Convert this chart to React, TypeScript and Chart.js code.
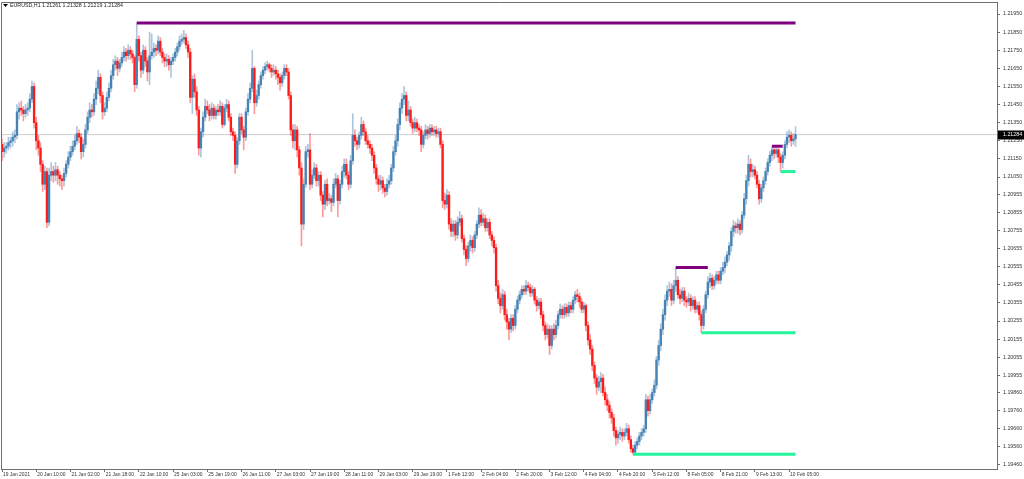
import React, { useEffect, useRef } from "react";
import { Chart, registerables } from "chart.js";

Chart.register(...registerables);

const symbolName = "EURUSD,H1";
const lastBarQuote = ["1.21261", "1.21328", "1.21219", "1.21284"];
const currentPrice = 1.21284;

const opens = [
  1.2123, 1.2119, 1.2121, 1.2122, 1.2124, 1.2125, 1.2127, 1.2128, 1.2141, 1.2143,
  1.2142, 1.2140, 1.2142, 1.2143, 1.2148, 1.2155, 1.2135, 1.2125, 1.2121, 1.2112,
  1.2101, 1.2108, 1.2080, 1.2106, 1.2108, 1.2106, 1.2109, 1.2106, 1.2104, 1.2103,
  1.2107, 1.2112, 1.2116, 1.2119, 1.2122, 1.2125, 1.2129, 1.2127, 1.2119, 1.2123,
  1.2131, 1.2138, 1.2142, 1.2141, 1.2148, 1.2154, 1.2160, 1.2150, 1.2141, 1.2143,
  1.2149, 1.2154, 1.2161, 1.2167, 1.2169, 1.2165, 1.2168, 1.2171, 1.2174, 1.2172,
  1.2175, 1.2173, 1.2171, 1.2156, 1.2181, 1.2172, 1.2164, 1.2175, 1.2169, 1.2163,
  1.2172, 1.2174, 1.2176, 1.2175, 1.2180, 1.2174, 1.2171, 1.2169, 1.2170, 1.2167,
  1.2169, 1.2171, 1.2174, 1.2177, 1.2180, 1.2181, 1.2182, 1.2178, 1.2174, 1.2149,
  1.2159, 1.2152, 1.2142, 1.2121, 1.2130, 1.2138, 1.2144, 1.2142, 1.2139, 1.2143,
  1.2139, 1.2142, 1.2141, 1.2144, 1.2134, 1.2143, 1.2145, 1.2138, 1.2130, 1.2128,
  1.2112, 1.2125, 1.2138, 1.2131, 1.2127, 1.2141, 1.2148, 1.2154, 1.2165, 1.2146,
  1.2150, 1.2156, 1.2161, 1.2164, 1.2166, 1.2167, 1.2165, 1.2163, 1.2164, 1.2162,
  1.2160, 1.2157, 1.2161, 1.2165, 1.2163, 1.2150, 1.2131, 1.2125, 1.2131, 1.2120,
  1.2110, 1.2079, 1.2101, 1.2119, 1.2120, 1.2101, 1.2106, 1.2110, 1.2103, 1.2106,
  1.2095, 1.2090, 1.2101, 1.2092, 1.2093, 1.2091, 1.2101, 1.2104, 1.2092, 1.2101,
  1.2108, 1.2112, 1.2106, 1.2101, 1.2114, 1.2128, 1.2125, 1.2123, 1.2128, 1.2134,
  1.2130, 1.2125, 1.2123, 1.2121, 1.2117, 1.2110, 1.2104, 1.2101, 1.2103, 1.2099,
  1.2097, 1.2101, 1.2103, 1.2110, 1.2119, 1.2125, 1.2134, 1.2143, 1.2148, 1.2150,
  1.2139, 1.2142, 1.2135, 1.2132, 1.2135, 1.2132, 1.2131, 1.2123, 1.2128, 1.2131,
  1.2129, 1.2132, 1.2130, 1.2131, 1.2129, 1.2130, 1.2123, 1.2092, 1.2090, 1.2095,
  1.2079, 1.2075, 1.2079, 1.2073, 1.2080, 1.2082, 1.2071, 1.2065, 1.2060, 1.2067,
  1.2070, 1.2066, 1.2073, 1.2079, 1.2084, 1.2080, 1.2082, 1.2077, 1.2080, 1.2073,
  1.2070, 1.2066, 1.2045, 1.2038, 1.2034, 1.2040, 1.2029, 1.2025, 1.2021, 1.2027,
  1.2023, 1.2032, 1.2037, 1.2040, 1.2043, 1.2042, 1.2045, 1.2044, 1.2041, 1.2043,
  1.2037, 1.2034, 1.2036, 1.2029, 1.2023, 1.2018, 1.2021, 1.2012, 1.2021, 1.2018,
  1.2023, 1.2029, 1.2032, 1.2029, 1.2033, 1.2030, 1.2034, 1.2032, 1.2037, 1.2040,
  1.2039, 1.2036, 1.2032, 1.2034, 1.2023, 1.2015, 1.2010, 1.2001, 1.1994, 1.1989,
  1.1992, 1.1994, 1.1986, 1.1982, 1.1979, 1.1975, 1.1972, 1.1965, 1.1961, 1.1963,
  1.1964, 1.1962, 1.1964, 1.1966, 1.1960, 1.1955, 1.1953, 1.1957, 1.1959, 1.1962,
  1.1964, 1.1966, 1.1982, 1.1976, 1.1982, 1.1986, 1.1990, 1.2004, 1.2012, 1.2021,
  1.2029, 1.2037, 1.2042, 1.2043, 1.2037, 1.2045, 1.2048, 1.2040, 1.2038, 1.2042,
  1.2037, 1.2036, 1.2038, 1.2034, 1.2037, 1.2032, 1.2034, 1.2029, 1.2023, 1.2032,
  1.2040, 1.2047, 1.2049, 1.2045, 1.2048, 1.2051, 1.2048, 1.2053, 1.2055, 1.2058,
  1.2062, 1.2067, 1.2075, 1.2078, 1.2077, 1.2079, 1.2076, 1.2084, 1.2093, 1.2103,
  1.2112, 1.2108, 1.2109, 1.2106, 1.2101, 1.2093, 1.2099, 1.2103, 1.2108, 1.2113,
  1.2117, 1.2120, 1.2118, 1.2120, 1.2116, 1.2113, 1.2117, 1.2123, 1.2127, 1.2128, 1.2125, 1.21261,
];

const highs = [
  1.2126, 1.2124, 1.2124, 1.2127, 1.2127, 1.2130, 1.2131, 1.2145, 1.2146, 1.2147,
  1.2144, 1.2145, 1.2146, 1.2151, 1.2158, 1.2157, 1.2138, 1.2128, 1.2124, 1.2114,
  1.2111, 1.2110, 1.2110, 1.2113, 1.2111, 1.2113, 1.2111, 1.2108, 1.2106, 1.2110,
  1.2114, 1.2119, 1.2122, 1.2125, 1.2128, 1.2133, 1.2131, 1.2129, 1.2126, 1.2134,
  1.2141, 1.2146, 1.2145, 1.2151, 1.2158, 1.2164, 1.2162, 1.2152, 1.2146, 1.2152,
  1.2157, 1.2164, 1.2170, 1.2172, 1.2171, 1.2170, 1.2174, 1.2177, 1.2176, 1.2178,
  1.2177, 1.2175, 1.2172, 1.2190, 1.2183, 1.2174, 1.2178, 1.2177, 1.2171, 1.2185,
  1.2184, 1.2179, 1.2178, 1.2183, 1.2182, 1.2176, 1.2173, 1.2173, 1.2172, 1.2171,
  1.2173, 1.2176, 1.2179, 1.2183, 1.2184, 1.2186, 1.2184, 1.2180, 1.2176, 1.2161,
  1.2162, 1.2155, 1.2144, 1.2132, 1.2141, 1.2148, 1.2147, 1.2145, 1.2146, 1.2145,
  1.2144, 1.2145, 1.2147, 1.2146, 1.2145, 1.2148, 1.2147, 1.2140, 1.2132, 1.2130,
  1.2127, 1.2140, 1.2140, 1.2133, 1.2143, 1.2151, 1.2157, 1.2175, 1.2166, 1.2153,
  1.2158, 1.2163, 1.2166, 1.2168, 1.2169, 1.2168, 1.2167, 1.2167, 1.2166, 1.2164,
  1.2162, 1.2163, 1.2167, 1.2167, 1.2165, 1.2152, 1.2134, 1.2134, 1.2133, 1.2122,
  1.2113, 1.2104, 1.2122, 1.2123, 1.2129, 1.2109, 1.2113, 1.2112, 1.2108, 1.2108,
  1.2097, 1.2103, 1.2104, 1.2096, 1.2095, 1.2104, 1.2107, 1.2106, 1.2103, 1.2111,
  1.2115, 1.2115, 1.2108, 1.2117, 1.2140, 1.2131, 1.2127, 1.2130, 1.2138, 1.2136,
  1.2132, 1.2128, 1.2125, 1.2123, 1.2119, 1.2112, 1.2106, 1.2106, 1.2105, 1.2101,
  1.2104, 1.2106, 1.2112, 1.2122, 1.2128, 1.2137, 1.2146, 1.2151, 1.2155, 1.2152,
  1.2147, 1.2144, 1.2137, 1.2138, 1.2137, 1.2134, 1.2133, 1.2130, 1.2134, 1.2133,
  1.2134, 1.2134, 1.2133, 1.2133, 1.2132, 1.2132, 1.2125, 1.2096, 1.2098, 1.2097,
  1.2082, 1.2081, 1.2081, 1.2083, 1.2086, 1.2084, 1.2073, 1.2067, 1.2069, 1.2073,
  1.2072, 1.2075, 1.2081, 1.2088, 1.2087, 1.2085, 1.2084, 1.2082, 1.2082, 1.2075,
  1.2072, 1.2068, 1.2048, 1.2041, 1.2043, 1.2042, 1.2032, 1.2027, 1.2029, 1.2029,
  1.2034, 1.2039, 1.2042, 1.2045, 1.2045, 1.2048, 1.2047, 1.2046, 1.2045, 1.2044,
  1.2039, 1.2038, 1.2038, 1.2031, 1.2025, 1.2024, 1.2023, 1.2023, 1.2024, 1.2026,
  1.2031, 1.2035, 1.2034, 1.2035, 1.2035, 1.2036, 1.2036, 1.2039, 1.2042, 1.2043,
  1.2041, 1.2038, 1.2036, 1.2035, 1.2025, 1.2018, 1.2012, 1.2003, 1.1996, 1.1995,
  1.1997, 1.1996, 1.1989, 1.1985, 1.1981, 1.1977, 1.1974, 1.1967, 1.1965, 1.1967,
  1.1966, 1.1966, 1.1969, 1.1968, 1.1962, 1.1957, 1.1959, 1.1961, 1.1964, 1.1966,
  1.1968, 1.1985, 1.1984, 1.1985, 1.1988, 1.1993, 1.2006, 1.2015, 1.2024, 1.2032,
  1.2040, 1.2045, 1.2047, 1.2046, 1.2048, 1.2055, 1.2050, 1.2043, 1.2044, 1.2044,
  1.2039, 1.2041, 1.2040, 1.2039, 1.2039, 1.2036, 1.2036, 1.2031, 1.2034, 1.2042,
  1.2050, 1.2052, 1.2051, 1.2050, 1.2053, 1.2053, 1.2055, 1.2058, 1.2061, 1.2064,
  1.2069, 1.2077, 1.2081, 1.2080, 1.2082, 1.2081, 1.2086, 1.2096, 1.2106, 1.2117,
  1.2115, 1.2112, 1.2111, 1.2108, 1.2103, 1.2101, 1.2105, 1.2110, 1.2115, 1.2119,
  1.2122, 1.2121, 1.2121, 1.2121, 1.2118, 1.2119, 1.2125, 1.2130, 1.2131, 1.2130, 1.2129, 1.21328,
];

const lows = [
  1.2114, 1.2116, 1.2118, 1.2120, 1.2121, 1.2122, 1.2124, 1.2126, 1.2137, 1.2139,
  1.2136, 1.2138, 1.2139, 1.2141, 1.2146, 1.2132, 1.2120, 1.2117, 1.2108, 1.2097,
  1.2098, 1.2077, 1.2078, 1.2103, 1.2102, 1.2103, 1.2101, 1.2100, 1.2098, 1.2100,
  1.2105, 1.2110, 1.2114, 1.2117, 1.2120, 1.2123, 1.2124, 1.2115, 1.2116, 1.2121,
  1.2129, 1.2135, 1.2138, 1.2139, 1.2145, 1.2151, 1.2146, 1.2137, 1.2139, 1.2141,
  1.2147, 1.2152, 1.2159, 1.2164, 1.2161, 1.2163, 1.2166, 1.2169, 1.2169, 1.2170,
  1.2170, 1.2168, 1.2152, 1.2154, 1.2169, 1.2160, 1.2162, 1.2166, 1.2158, 1.2156,
  1.2170, 1.2171, 1.2172, 1.2173, 1.2172, 1.2168, 1.2166, 1.2166, 1.2164, 1.2160,
  1.2167, 1.2169, 1.2172, 1.2175, 1.2178, 1.2179, 1.2176, 1.2171, 1.2146, 1.2140,
  1.2149, 1.2139, 1.2117, 1.2116, 1.2127, 1.2136, 1.2140, 1.2136, 1.2137, 1.2137,
  1.2137, 1.2139, 1.2139, 1.2132, 1.2133, 1.2141, 1.2136, 1.2128, 1.2125, 1.2107,
  1.2110, 1.2123, 1.2129, 1.2120, 1.2125, 1.2139, 1.2146, 1.2152, 1.2140, 1.2144,
  1.2148, 1.2154, 1.2159, 1.2162, 1.2164, 1.2163, 1.2160, 1.2161, 1.2159, 1.2156,
  1.2153, 1.2155, 1.2159, 1.2161, 1.2148, 1.2128, 1.2121, 1.2120, 1.2116, 1.2106,
  1.2067, 1.2076, 1.2099, 1.2116, 1.2098, 1.2099, 1.2104, 1.2100, 1.2100, 1.2092,
  1.2083, 1.2087, 1.2089, 1.2090, 1.2086, 1.2089, 1.2099, 1.2083, 1.2090, 1.2099,
  1.2105, 1.2104, 1.2098, 1.2099, 1.2112, 1.2122, 1.2120, 1.2121, 1.2126, 1.2128,
  1.2123, 1.2121, 1.2118, 1.2114, 1.2107, 1.2101, 1.2097, 1.2098, 1.2096, 1.2094,
  1.2095, 1.2099, 1.2101, 1.2108, 1.2117, 1.2122, 1.2131, 1.2140, 1.2145, 1.2136,
  1.2136, 1.2133, 1.2129, 1.2130, 1.2130, 1.2128, 1.2119, 1.2121, 1.2126, 1.2126,
  1.2127, 1.2128, 1.2128, 1.2127, 1.2127, 1.2121, 1.2088, 1.2087, 1.2088, 1.2076,
  1.2072, 1.2072, 1.2070, 1.2071, 1.2078, 1.2069, 1.2062, 1.2056, 1.2058, 1.2064,
  1.2063, 1.2064, 1.2071, 1.2077, 1.2078, 1.2078, 1.2075, 1.2075, 1.2071, 1.2067,
  1.2063, 1.2042, 1.2035, 1.2030, 1.2032, 1.2026, 1.2021, 1.2015, 1.2019, 1.2020,
  1.2021, 1.2030, 1.2035, 1.2038, 1.2040, 1.2040, 1.2042, 1.2039, 1.2039, 1.2035,
  1.2031, 1.2032, 1.2027, 1.2020, 1.2015, 1.2016, 1.2007, 1.2010, 1.2015, 1.2016,
  1.2021, 1.2027, 1.2027, 1.2027, 1.2028, 1.2028, 1.2030, 1.2030, 1.2035, 1.2036,
  1.2033, 1.2030, 1.2030, 1.2020, 1.2012, 1.2007, 1.1998, 1.1991, 1.1985, 1.1987,
  1.1986, 1.1984, 1.1979, 1.1976, 1.1972, 1.1969, 1.1962, 1.1957, 1.1958, 1.1960,
  1.1959, 1.1960, 1.1962, 1.1958, 1.1953, 1.1952, 1.1953, 1.1955, 1.1957, 1.1960,
  1.1962, 1.1964, 1.1973, 1.1974, 1.1980, 1.1984, 1.1988, 1.2001, 1.2009, 1.2018,
  1.2026, 1.2034, 1.2039, 1.2034, 1.2035, 1.2042, 1.2038, 1.2035, 1.2036, 1.2034,
  1.2033, 1.2034, 1.2031, 1.2032, 1.2030, 1.2030, 1.2026, 1.2019, 1.2021, 1.2030,
  1.2038, 1.2044, 1.2043, 1.2043, 1.2046, 1.2046, 1.2046, 1.2051, 1.2052, 1.2056,
  1.2059, 1.2064, 1.2072, 1.2074, 1.2074, 1.2073, 1.2074, 1.2082, 1.2090, 1.2100,
  1.2105, 1.2105, 1.2104, 1.2099, 1.2090, 1.2091, 1.2097, 1.2101, 1.2106, 1.2111,
  1.2114, 1.2115, 1.2116, 1.2113, 1.2108, 1.2110, 1.2115, 1.2121, 1.2124, 1.2122, 1.2123, 1.21219,
];

const closes = [
  1.2119, 1.2121, 1.2122, 1.2124, 1.2125, 1.2127, 1.2128, 1.2141, 1.2143, 1.2142,
  1.2140, 1.2142, 1.2143, 1.2148, 1.2155, 1.2135, 1.2125, 1.2121, 1.2112, 1.2101,
  1.2108, 1.2080, 1.2106, 1.2108, 1.2106, 1.2109, 1.2106, 1.2104, 1.2103, 1.2107,
  1.2112, 1.2116, 1.2119, 1.2122, 1.2125, 1.2129, 1.2127, 1.2119, 1.2123, 1.2131,
  1.2138, 1.2142, 1.2141, 1.2148, 1.2154, 1.2160, 1.2150, 1.2141, 1.2143, 1.2149,
  1.2154, 1.2161, 1.2167, 1.2169, 1.2165, 1.2168, 1.2171, 1.2174, 1.2172, 1.2175,
  1.2173, 1.2171, 1.2156, 1.2181, 1.2172, 1.2164, 1.2175, 1.2169, 1.2163, 1.2172,
  1.2174, 1.2176, 1.2175, 1.2180, 1.2174, 1.2171, 1.2169, 1.2170, 1.2167, 1.2169,
  1.2171, 1.2174, 1.2177, 1.2180, 1.2181, 1.2182, 1.2178, 1.2174, 1.2149, 1.2159,
  1.2152, 1.2142, 1.2121, 1.2130, 1.2138, 1.2144, 1.2142, 1.2139, 1.2143, 1.2139,
  1.2142, 1.2141, 1.2144, 1.2134, 1.2143, 1.2145, 1.2138, 1.2130, 1.2128, 1.2112,
  1.2125, 1.2138, 1.2131, 1.2127, 1.2141, 1.2148, 1.2154, 1.2165, 1.2146, 1.2150,
  1.2156, 1.2161, 1.2164, 1.2166, 1.2167, 1.2165, 1.2163, 1.2164, 1.2162, 1.2160,
  1.2157, 1.2161, 1.2165, 1.2163, 1.2150, 1.2131, 1.2125, 1.2131, 1.2120, 1.2110,
  1.2079, 1.2101, 1.2119, 1.2120, 1.2101, 1.2106, 1.2110, 1.2103, 1.2106, 1.2095,
  1.2090, 1.2101, 1.2092, 1.2093, 1.2091, 1.2101, 1.2104, 1.2092, 1.2101, 1.2108,
  1.2112, 1.2106, 1.2101, 1.2114, 1.2128, 1.2125, 1.2123, 1.2128, 1.2134, 1.2130,
  1.2125, 1.2123, 1.2121, 1.2117, 1.2110, 1.2104, 1.2101, 1.2103, 1.2099, 1.2097,
  1.2101, 1.2103, 1.2110, 1.2119, 1.2125, 1.2134, 1.2143, 1.2148, 1.2150, 1.2139,
  1.2142, 1.2135, 1.2132, 1.2135, 1.2132, 1.2131, 1.2123, 1.2128, 1.2131, 1.2129,
  1.2132, 1.2130, 1.2131, 1.2129, 1.2130, 1.2123, 1.2092, 1.2090, 1.2095, 1.2079,
  1.2075, 1.2079, 1.2073, 1.2080, 1.2082, 1.2071, 1.2065, 1.2060, 1.2067, 1.2070,
  1.2066, 1.2073, 1.2079, 1.2084, 1.2080, 1.2082, 1.2077, 1.2080, 1.2073, 1.2070,
  1.2066, 1.2045, 1.2038, 1.2034, 1.2040, 1.2029, 1.2025, 1.2021, 1.2027, 1.2023,
  1.2032, 1.2037, 1.2040, 1.2043, 1.2042, 1.2045, 1.2044, 1.2041, 1.2043, 1.2037,
  1.2034, 1.2036, 1.2029, 1.2023, 1.2018, 1.2021, 1.2012, 1.2021, 1.2018, 1.2023,
  1.2029, 1.2032, 1.2029, 1.2033, 1.2030, 1.2034, 1.2032, 1.2037, 1.2040, 1.2039,
  1.2036, 1.2032, 1.2034, 1.2023, 1.2015, 1.2010, 1.2001, 1.1994, 1.1989, 1.1992,
  1.1994, 1.1986, 1.1982, 1.1979, 1.1975, 1.1972, 1.1965, 1.1961, 1.1963, 1.1964,
  1.1962, 1.1964, 1.1966, 1.1960, 1.1955, 1.1953, 1.1957, 1.1959, 1.1962, 1.1964,
  1.1966, 1.1982, 1.1976, 1.1982, 1.1986, 1.1990, 1.2004, 1.2012, 1.2021, 1.2029,
  1.2037, 1.2042, 1.2043, 1.2037, 1.2045, 1.2048, 1.2040, 1.2038, 1.2042, 1.2037,
  1.2036, 1.2038, 1.2034, 1.2037, 1.2032, 1.2034, 1.2029, 1.2023, 1.2032, 1.2040,
  1.2047, 1.2049, 1.2045, 1.2048, 1.2051, 1.2048, 1.2053, 1.2055, 1.2058, 1.2062,
  1.2067, 1.2075, 1.2078, 1.2077, 1.2079, 1.2076, 1.2084, 1.2093, 1.2103, 1.2112,
  1.2108, 1.2109, 1.2106, 1.2101, 1.2093, 1.2099, 1.2103, 1.2108, 1.2113, 1.2117,
  1.2120, 1.2118, 1.2120, 1.2116, 1.2113, 1.2117, 1.2123, 1.2127, 1.2128, 1.2125, 1.2126, 1.21284,
];

const timeLabels = [
  "19 Jan 2021", "20 Jan 10:00", "21 Jan 02:00", "21 Jan 18:00", "22 Jan 10:00",
  "25 Jan 03:00", "25 Jan 19:00", "26 Jan 11:00", "27 Jan 03:00", "27 Jan 19:00",
  "28 Jan 11:00", "29 Jan 03:00", "29 Jan 19:00", "1 Feb 12:00", "2 Feb 04:00",
  "2 Feb 20:00", "3 Feb 12:00", "4 Feb 04:00", "4 Feb 20:00", "5 Feb 12:00",
  "8 Feb 05:00", "8 Feb 21:00", "9 Feb 13:00", "10 Feb 05:00",
];
const barsPerLabel = 16;

const priceTicks = [
  1.2195, 1.2185, 1.2175, 1.2165, 1.2155, 1.2145, 1.2135, 1.2125, 1.2115, 1.2105,
  1.20955, 1.20855, 1.20755, 1.20655, 1.20555, 1.20455, 1.20355, 1.20255, 1.20155,
  1.20055, 1.19955, 1.1986, 1.1976, 1.1966, 1.1956, 1.1946,
];

const levelPrices = [1.219, 1.2055, 1.2122, 1.2019, 1.1952, 1.2108];
const levelStartBars = [63, 315, 360, 327, 295, 364];
const levelEndBars = [371, 330, 365, 371, 371, 371];
const levelKinds = ["resistance", "resistance", "resistance", "support", "support", "support"];

const FONT = "'Liberation Sans', Arial, sans-serif";
const AXIS_COLOR = "#6f6f6f";
const TEXT_COLOR = "#333333";

const overlayPlugin = {
  id: "mt4Overlay",
  afterDraw(chart: any) {
    const { ctx, chartArea, scales } = chart;
    ctx.save();
    // left & top frame
    ctx.strokeStyle = AXIS_COLOR;
    ctx.lineWidth = 1;
    ctx.beginPath();
    ctx.moveTo(chartArea.left + 0.5, chartArea.bottom);
    ctx.lineTo(chartArea.left + 0.5, chartArea.top + 0.5);
    ctx.lineTo(chartArea.right, chartArea.top + 0.5);
    ctx.stroke();
    // header
    ctx.fillStyle = "#000";
    ctx.beginPath();
    ctx.moveTo(3, 4);
    ctx.lineTo(8, 4);
    ctx.lineTo(5.5, 7);
    ctx.closePath();
    ctx.fill();
    ctx.font = `5.3px ${FONT}`;
    ctx.textBaseline = "middle";
    ctx.textAlign = "left";
    ctx.fillStyle = "#222";
    ctx.fillText(symbolName, 10, 6);
    ctx.fillText(lastBarQuote.join(" "), 42, 6);
    // current price tag
    const y = scales.y.getPixelForValue(currentPrice);
    ctx.fillStyle = "#000";
    ctx.fillRect(chartArea.right + 1, Math.round(y) - 4.5, 26, 9);
    ctx.fillStyle = "#fff";
    ctx.fillText(currentPrice.toFixed(5), chartArea.right + 6, Math.round(y));
    ctx.restore();
  },
};

export default function App() {
  const canvasRef = useRef<HTMLCanvasElement | null>(null);

  useEffect(() => {
    if (!canvasRef.current) return;
    const bull = closes.map((c, i) => c >= opens[i]);
    const wickData = closes.map((_, i) => ({ x: i, y: [lows[i], highs[i]] }));
    const bodyData = closes.map((c, i) => ({ x: i, y: [opens[i], c] }));

    const levelDatasets = levelPrices.map((p, k) => ({
      type: "line" as const,
      data: [
        { x: levelStartBars[k], y: p },
        { x: levelEndBars[k], y: p },
      ],
      borderColor: levelKinds[k] === "resistance" ? "#800080" : "#22f59a",
      borderWidth: 3,
      borderCapStyle: "butt",
      pointRadius: 0,
      tension: 0,
      order: 0,
    }));

    const xMin = -0.47;
    const xMax = 465.2;

    const chart = new Chart(canvasRef.current, {
      type: "bar",
      data: {
        datasets: [
          {
            type: "line",
            data: [
              { x: xMin, y: currentPrice },
              { x: xMax, y: currentPrice },
            ],
            borderColor: "#cccccc",
            borderWidth: 1,
            pointRadius: 0,
            order: 10,
          } as any,
          {
            type: "bar",
            data: wickData,
            backgroundColor: bull.map((b) => (b ? "rgba(70,130,180,0.45)" : "rgba(255,0,0,0.4)")),
            borderWidth: 0,
            barThickness: 1,
            grouped: false,
            order: 5,
          } as any,
          {
            type: "bar",
            data: bodyData,
            backgroundColor: bull.map((b) => (b ? "#4682b4" : "#ff1a1a")),
            borderWidth: 0,
            barThickness: 1.7,
            minBarLength: 1,
            grouped: false,
            order: 4,
          } as any,
          ...(levelDatasets as any[]),
        ],
      },
      options: {
        responsive: false,
        animation: false,
        events: [],
        devicePixelRatio: 1,
        layout: { padding: { top: 2, left: 1, right: 0, bottom: 0 } },
        plugins: {
          legend: { display: false },
          tooltip: { enabled: false },
          title: { display: false },
        },
        scales: {
          x: {
            type: "linear",
            min: xMin,
            max: xMax,
            offset: false,
            grid: {
              display: true,
              drawOnChartArea: false,
              drawTicks: true,
              tickLength: 3,
              color: AXIS_COLOR,
              offset: false,
            },
            border: { display: true, color: AXIS_COLOR, width: 1 },
            afterBuildTicks: (s: any) => {
              s.ticks = timeLabels.map((_, k) => ({ value: k * barsPerLabel }));
            },
            afterFit: (s: any) => {
              s.height = 10;
              s.paddingLeft = 0;
              s.paddingRight = 0;
            },
            ticks: {
              autoSkip: false,
              maxRotation: 0,
              minRotation: 0,
              align: "start",
              labelOffset: 1,
              padding: 0,
              color: TEXT_COLOR,
              font: { family: FONT, size: 4.9 },
              callback: (_v: any, idx: number) => timeLabels[idx],
            },
          },
          y: {
            type: "linear",
            position: "right",
            min: 1.194379,
            max: 1.220163,
            grid: {
              display: true,
              drawOnChartArea: false,
              drawTicks: true,
              tickLength: 3,
              color: AXIS_COLOR,
            },
            border: { display: true, color: AXIS_COLOR, width: 1 },
            afterBuildTicks: (s: any) => {
              s.ticks = priceTicks.map((v) => ({ value: v }));
            },
            afterFit: (s: any) => {
              s.width = 27;
              s.paddingTop = 0;
              s.paddingBottom = 0;
            },
            ticks: {
              autoSkip: false,
              padding: 3,
              color: TEXT_COLOR,
              font: { family: FONT, size: 5.3 },
              callback: (v: any) => Number(v).toFixed(5),
            },
          },
        },
      } as any,
      plugins: [overlayPlugin],
    });
    return () => chart.destroy();
  }, []);

  return (
    <div style={{ position: "fixed", left: 0, top: 0, width: 1024, height: 479, background: "#fff" }}>
      <canvas ref={canvasRef} width={1024} height={479} style={{ display: "block" }} />
    </div>
  );
}
